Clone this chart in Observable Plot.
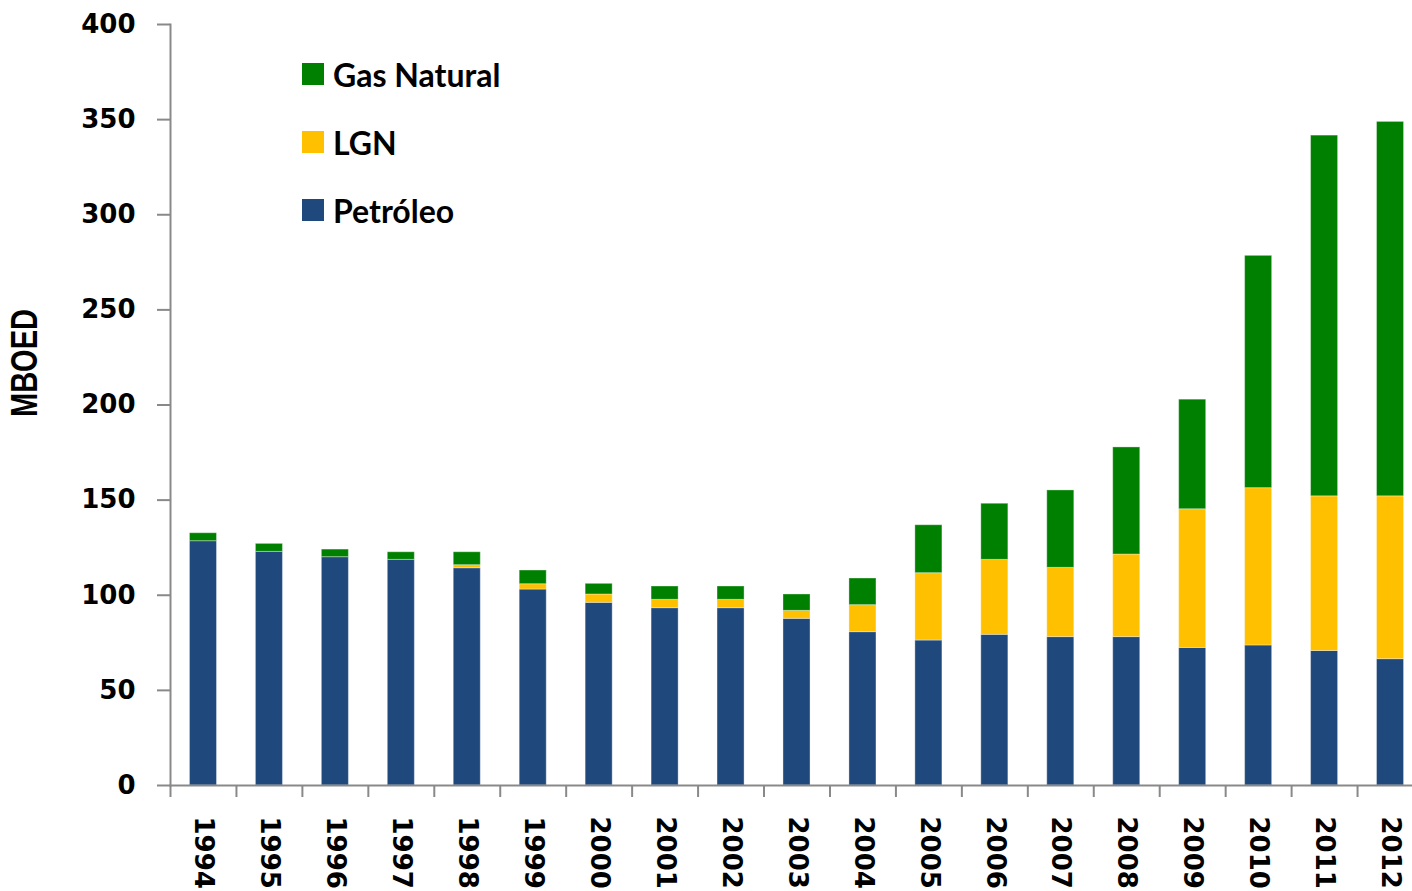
<!DOCTYPE html>
<html><head><meta charset="utf-8">
<script src="https://cdn.jsdelivr.net/npm/d3@7"></script>
<script src="https://cdn.jsdelivr.net/npm/@observablehq/plot@0.6"></script>
<style>
html,body{margin:0;padding:0;background:#fff;overflow:hidden;}
#wrap{position:relative;width:1412px;height:891px;overflow:hidden;}
#chart{width:1423px;}
#chart svg{max-width:none !important;}
#legend{position:absolute;left:302px;top:63px;font-family:Lato,"Open Sans",sans-serif;font-weight:bold;font-size:32px;color:#000;}
.row{display:flex;align-items:center;height:22px;margin-bottom:46px;white-space:nowrap;}
.sw{width:22px;height:22px;margin-right:9px;flex:none;}
</style></head>
<body><div id="wrap"><div id="chart"></div><div id="legend"></div></div>
<script>
const years = [1994,1995,1996,1997,1998,1999,2000,2001,2002,2003,2004,2005,2006,2007,2008,2009,2010,2011,2012];
const petroleo   = [128.4,122.8,120.0,118.6,114.2,103.0,96.0,93.2,93.2,87.6,80.6,76.2,79.2,78.0,78.0,72.3,73.6,70.7,66.4];
const lgn        = [0,0,0,0,1.6,2.8,4.4,4.4,4.4,4.2,14.2,35.4,39.4,36.4,43.4,72.9,82.7,81.3,85.6];
const gasNatural = [4.2,4.2,4.0,4.0,6.8,7.2,5.6,7.0,7.0,8.6,14.0,25.2,29.5,40.7,56.3,57.6,122.1,189.6,196.8];
const seriesNames = ["Petróleo","LGN","Gas Natural"];
const seriesColors = ["#1F497D","#FFC000","#008000"];
const legendOrder = ["Gas Natural","LGN","Petróleo"];
const yTicks = [0,50,100,150,200,250,300,350,400];
const yLabel = "MBOED";

const seriesValues = [petroleo, lgn, gasNatural];
const rows = [];
years.forEach((yr, i) => {
  seriesNames.forEach((s, j) => rows.push({year: String(yr), series: s, value: seriesValues[j][i]}));
});

const W = 1423, ML = 170;
const step = (W - ML) / years.length;
const axisGray = "#898989";

const chart = Plot.plot({
  width: W, height: 891,
  marginLeft: ML, marginRight: 0, marginTop: 24, marginBottom: 106,
  style: {fontFamily: "'DejaVu Sans', Verdana, sans-serif", fontWeight: "bold", fontSize: "26px", color: "#000", background: "#fff", overflow: "visible", maxWidth: "none"},
  x: {type: "band", domain: years.map(String), paddingInner: 0.59, paddingOuter: 0.295, round: false},
  y: {domain: [0, 400]},
  color: {domain: seriesNames, range: seriesColors},
  marks: [
    Plot.barY(rows, {x: "year", y: "value", fill: "series", order: seriesNames, stroke: "#fff", strokeOpacity: 0.35, strokeWidth: 1}),
    Plot.frame({anchor: "left", stroke: axisGray, strokeWidth: 2}),
    Plot.frame({anchor: "bottom", stroke: axisGray, strokeWidth: 2}),
    Plot.axisY({ticks: yTicks, tickSize: 13, tickPadding: 22, stroke: axisGray, strokeWidth: 2, label: null}),
    Plot.axisX({tickSize: 12, tickFormat: () => "", dx: -step / 2, stroke: axisGray, strokeWidth: 2, label: null}),
    Plot.axisX({tickSize: 0, tickRotate: 90, tickPadding: 31, label: null}),
    Plot.text([yLabel], {frameAnchor: "left", textAnchor: "middle", dx: -145, dy: -42, rotate: -90, fontFamily: "'Liberation Sans', Arial, sans-serif", fontWeight: "bold", fontSize: 36, fill: "#000", className: "ylab"})
  ]
});
document.getElementById("chart").appendChild(chart);
chart.querySelectorAll(".ylab text").forEach(t => {
  t.setAttribute("textLength", 108);
  t.setAttribute("lengthAdjust", "spacingAndGlyphs");
});

const legend = document.getElementById("legend");
legendOrder.forEach(name => {
  const row = document.createElement("div");
  row.className = "row";
  const sw = document.createElement("div");
  sw.className = "sw";
  sw.style.background = seriesColors[seriesNames.indexOf(name)];
  const t = document.createElement("span");
  t.textContent = name;
  row.appendChild(sw); row.appendChild(t);
  legend.appendChild(row);
});
</script>
</body></html>
